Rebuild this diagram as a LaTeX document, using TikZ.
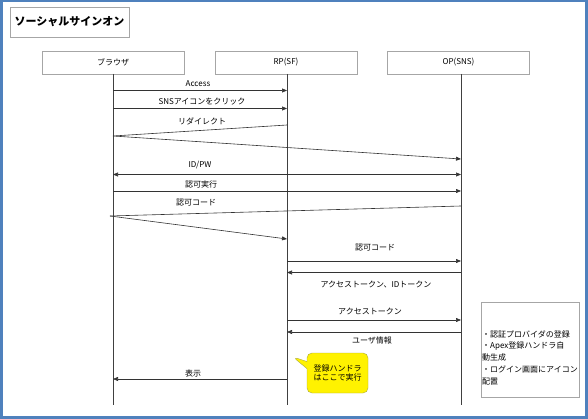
\documentclass[tikz,border=0pt]{standalone}
\usepackage{fontspec}
\setmainfont{Noto Sans CJK JP}
\usetikzlibrary{arrows.meta,shapes.callouts}
\definecolor{frameblue}{RGB}{79,129,189}
\definecolor{calloutline}{RGB}{170,170,60}
\begin{document}
\begin{tikzpicture}[x=1pt,y=-1pt,
  font=\fontsize{8}{9.6}\selectfont,
  actor/.style={draw=gray!70, fill=white, minimum width=142pt, minimum height=23pt, inner sep=0pt},
  life/.style={draw=black!75, line width=0.6pt},
  msg/.style={draw=black!80, line width=0.6pt, -{Triangle[length=5pt,width=4pt]}},
  dmsg/.style={draw=black!80, line width=0.6pt, {Triangle[length=5pt,width=4pt]}-{Triangle[length=5pt,width=4pt]}},
  plainline/.style={draw=black!80, line width=0.6pt},
  lbl/.style={inner sep=0pt}]
\useasboundingbox (0,0) rectangle (588,419);
\draw[draw=frameblue, line width=2.5pt] (1.25,1.25) rectangle (586.5,417.5);
% title
\node[draw=gray!70, minimum width=119pt, minimum height=30pt, inner sep=0pt,
      font=\fontsize{11}{13}\selectfont\bfseries] (title) at (69.5,22) {ソーシャルサインオン};
% actors
\node[actor] (br) at (113,62.5) {ブラウザ};
\node[actor] (rp) at (286,62.5) {RP(SF)};
\node[actor] (op) at (458.5,62.5) {OP(SNS)};
% lifelines
\coordinate (bTop) at (113,74); \coordinate (bEnd) at (113,405);
\coordinate (rTop) at (287,74); \coordinate (rEnd) at (287,405);
\coordinate (oTop) at (461,74); \coordinate (oEnd) at (461,405);
\draw[life] (bTop) -- (bEnd);
\draw[life] (rTop) -- (rEnd);
\draw[life] (oTop) -- (oEnd);
% 1 Access
\coordinate (b1) at (113,90.5); \coordinate (r1) at (287,90.5);
\draw[msg] (b1) -- (r1);
\node[lbl] (l1) at (198,84) {Access};
% 2
\coordinate (b2) at (113,108.5); \coordinate (r2) at (287,108.5);
\draw[msg] (b2) -- (r2);
\node[lbl] (l2) at (202,102) {SNSアイコンをクリック};
% 3 redirect
\coordinate (r3) at (287,125); \coordinate (b3) at (113,136); \coordinate (o3) at (461,159);
\draw[plainline] (r3) -- (b3);
\draw[msg] (b3) -- (o3);
\node[lbl] (l3) at (202,121) {リダイレクト};
% 4 ID/PW
\coordinate (b4) at (113,174.5); \coordinate (o4) at (461,174.5);
\draw[dmsg] (b4) -- (o4);
\node[lbl] (l4) at (200,165) {ID/PW};
% 5
\coordinate (b5) at (113,191); \coordinate (o5) at (461,191);
\draw[msg] (b5) -- (o5);
\node[lbl] (l5) at (201,184) {認可実行};
% 6 code redirect
\coordinate (o6) at (461,206); \coordinate (b6) at (110,216); \coordinate (r6) at (287,239);
\draw[plainline] (o6) -- (b6);
\draw[msg] (b6) -- (r6);
\node[lbl] (l6) at (196,203) {認可コード};
% 7
\coordinate (r7) at (287,261); \coordinate (o7) at (461,261);
\draw[msg] (r7) -- (o7);
\node[lbl] (l7) at (375,248) {認可コード};
% 8
\coordinate (o8) at (461,272.5); \coordinate (r8) at (287,272.5);
\draw[msg] (o8) -- (r8);
\node[lbl] (l8) at (376,284) {アクセストークン、IDトークン};
% 9
\coordinate (r9) at (287,320); \coordinate (o9) at (461,320);
\draw[msg] (r9) -- (o9);
\node[lbl] (l9) at (370,311) {アクセストークン};
% 10
\coordinate (o10) at (461,332); \coordinate (r10) at (287,332);
\draw[msg] (o10) -- (r10);
\node[lbl] (l10) at (372,340) {ユーザ情報};
% 11
\coordinate (r11) at (287,379); \coordinate (b11) at (113,379);
\draw[msg] (r11) -- (b11);
\node[lbl] (l11) at (193,373) {表示};
% callout
\node[rectangle callout, rounded corners=5pt, draw=calloutline, fill=yellow,
      minimum width=61pt, minimum height=40pt, inner sep=0pt, align=center,
      callout absolute pointer={(293,357)}] (call) at (337.5,373) {登録ハンドラ\\はここで実行};
% note
\node[draw=gray!70, minimum width=98pt, minimum height=95pt, inner sep=0pt] (note) at (530,349.5) {};
\node[anchor=west, align=left, inner sep=0pt, font=\fontsize{8}{11.75}\selectfont] (notetext) at (482,357.5)
  {・認証プロバイダの登録\\・Apex登録ハンドラ自\\動生成\\・ログイン画面にアイコン\\配置};
\end{tikzpicture}
\end{document}
